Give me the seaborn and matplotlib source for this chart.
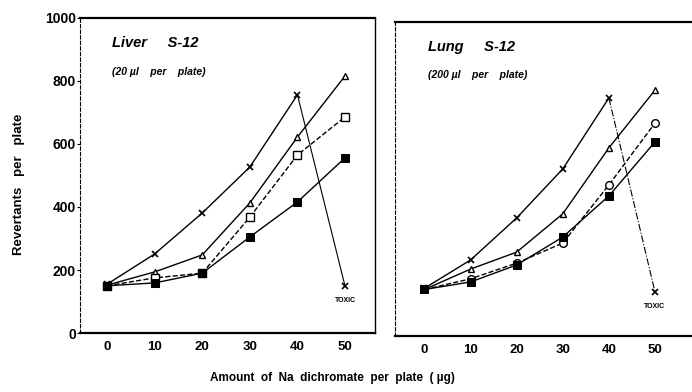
import matplotlib
matplotlib.use("Agg")
import matplotlib.pyplot as plt
import seaborn as sns
import pandas as pd

sns.set_theme(style="white")
plt.rcParams['font.family'] = ['Liberation Sans', 'DejaVu Sans']
plt.rcParams['text.color'] = 'black'
plt.rcParams['axes.labelcolor'] = 'black'
plt.rcParams['xtick.color'] = 'black'
plt.rcParams['ytick.color'] = 'black'

doses = [0, 10, 20, 30, 40]
doses_full = [0, 10, 20, 30, 40, 50]
toxic_x = [40, 50]

# Liver S-12
liver_x = [155, 251, 381, 527, 756]
liver_x_toxic = [756, 149]
liver_tri = [152, 194, 248, 413, 622, 816]
liver_open = [150, 175, 190, 368, 565, 686]
liver_filled = [150, 159, 190, 305, 416, 556]

# Lung S-12
lung_x = [152, 242, 376, 532, 758]
lung_x_toxic = [758, 140]
lung_tri = [148, 213, 267, 389, 599, 783]
lung_open = [148, 182, 232, 296, 481, 678]
lung_filled = [148, 172, 226, 315, 446, 618]

yticks = [0, 200, 400, 600, 800, 1000]
xticks = [0, 10, 20, 30, 40, 50]

fig = plt.figure(figsize=(6.92, 3.92), dpi=100)
ax1 = fig.add_axes([0.1156, 0.1505, 0.4263, 0.8036])
ax2 = fig.add_axes([0.5708, 0.143, 0.435, 0.801])

def draw(ax, xs, xt, tri, op, fil, open_marker, toxic_ls, title, sub, xlim):
    sns.lineplot(x=doses, y=xs, ax=ax, color='black', lw=1.0, marker='x',
                 markersize=5, markeredgewidth=1.2, markeredgecolor='black')
    sns.lineplot(x=toxic_x, y=xt, ax=ax, color='black', lw=0.8, linestyle=toxic_ls)
    sns.lineplot(x=[50], y=[xt[1]], ax=ax, color='black', marker='x', markersize=5,
                 markeredgewidth=1.2, markeredgecolor='black', linestyle='none')
    sns.lineplot(x=doses_full, y=tri, ax=ax, color='black', lw=1.0, marker='^',
                 markersize=5, markerfacecolor='white', markeredgecolor='black',
                 markeredgewidth=1.0)
    sns.lineplot(x=doses_full, y=op, ax=ax, color='black', lw=1.0, linestyle='--',
                 marker=open_marker, markersize=5.5, markerfacecolor='white',
                 markeredgecolor='black', markeredgewidth=1.0)
    sns.lineplot(x=doses_full, y=fil, ax=ax, color='black', lw=1.0, marker='s',
                 markersize=5.5, markerfacecolor='black', markeredgecolor='black')
    ax.set_xlim(*xlim)
    ax.set_ylim(0, 1000)
    ax.set_xticks(xticks)
    ax.set_xticklabels([str(t) for t in xticks], fontsize=9.5, fontweight='bold')
    ax.set_yticks(yticks)
    for s in ax.spines.values():
        s.set_color('black')
    ax.spines['top'].set_linewidth(1.6)
    ax.spines['bottom'].set_linewidth(1.6)
    ax.spines['left'].set_linewidth(0.8)
    ax.spines['right'].set_linewidth(1.0)
    ax.spines['left'].set_linestyle((0, (3, 2)))
    ax.text(0.11, 0.92, title, transform=ax.transAxes, fontsize=10.5,
            fontstyle='italic', fontweight='bold', va='center')
    ax.text(0.11, 0.83, sub, transform=ax.transAxes, fontsize=7.5,
            fontstyle='italic', fontweight='bold', va='center')
    ax.text(50, xt[1] - 35, 'TOXIC', fontsize=5, fontweight='bold',
            ha='center', va='top')
    ax.set_xlabel('')
    ax.set_ylabel('')

draw(ax1, liver_x, liver_x_toxic, liver_tri, liver_open, liver_filled, 's', '-',
     'Liver     S-12', '(20 \u00b5l    per    plate)', (-5.7, 56.3))
draw(ax2, lung_x, lung_x_toxic, lung_tri, lung_open, lung_filled, 'o', '-.',
     'Lung     S-12', '(200 \u00b5l    per    plate)', (-6.4, 58.9))

ax1.set_yticklabels([str(t) for t in yticks], fontsize=10, fontweight='bold')
ax1.tick_params(axis='y', length=2, width=0.8, direction='out', pad=1, left=True)
ax1.tick_params(axis='x', length=0, pad=6)
ax2.set_yticklabels([])
ax2.tick_params(axis='y', length=0)
ax2.tick_params(axis='x', length=0, pad=6)
ax2.spines['right'].set_visible(False)

fig.text(0.027, 0.53, 'Revertants   per   plate', rotation=90, fontsize=9.5,
         fontweight='bold', ha='center', va='center')
fig.text(0.48, 0.035, 'Amount  of  Na  dichromate  per  plate  ( \u00b5g)', fontsize=8.5,
         fontweight='bold', ha='center', va='center')

fig.savefig('out.png', dpi=100, facecolor='white')
